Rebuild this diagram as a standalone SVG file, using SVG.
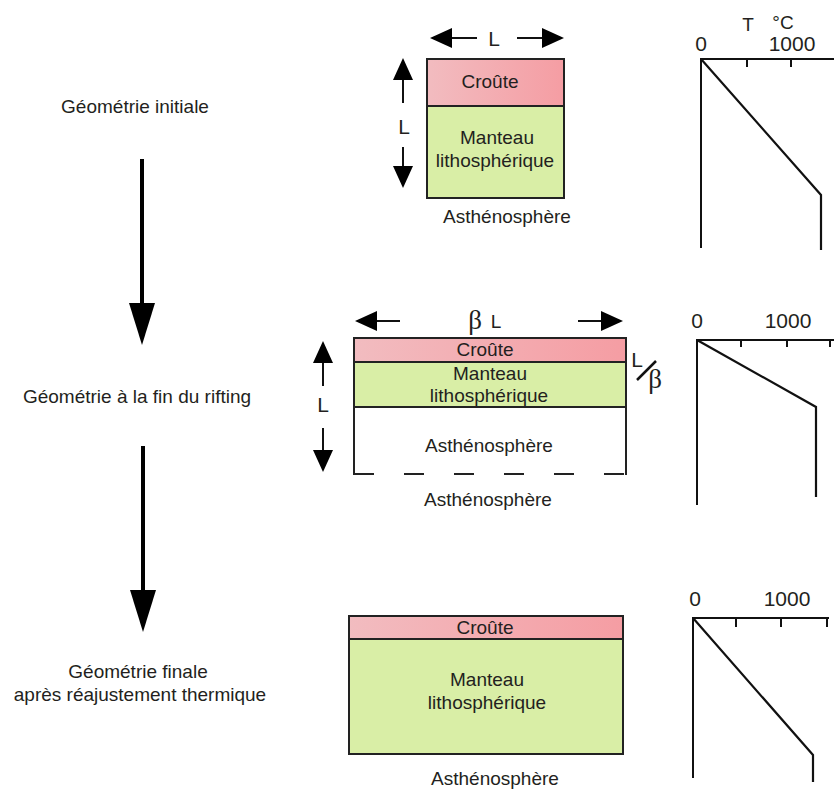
<svg xmlns="http://www.w3.org/2000/svg" width="834" height="791" viewBox="0 0 834 791">
<style>
text{font-family:"Liberation Sans",Arial,sans-serif;font-size:19px;fill:#231f20;text-anchor:middle}
.num{font-size:21px}
.lbl{font-size:21px}
.ax{stroke:#111;stroke-width:2;fill:none}
.prof{stroke:#111;stroke-width:2.2;fill:none}
.box{stroke:#222;stroke-width:2}
.crust{fill:url(#cg)}
.mantle{fill:#d9eea6}
.sa{stroke:#111;stroke-width:2;marker-end:url(#sh)}
.ba{stroke:#000;stroke-width:4;marker-end:url(#bh)}
.greek{font-family:"Liberation Serif","Times New Roman",serif;font-size:27px}
</style>
<defs>
<linearGradient id="cg" x1="0" y1="0" x2="1" y2="0">
<stop offset="0" stop-color="#f2bcc0"/>
<stop offset="1" stop-color="#f59da3"/>
</linearGradient>
<marker id="sh" markerUnits="userSpaceOnUse" viewBox="0 0 22 20" refX="0" refY="10" markerWidth="22" markerHeight="20" orient="auto">
<path d="M0,0 L22,10 L0,20 Z" fill="#000"/>
</marker>
<marker id="bh" markerUnits="userSpaceOnUse" viewBox="0 0 42 26" refX="0" refY="13" markerWidth="42" markerHeight="26" orient="auto">
<path d="M0,0 L42,13 L0,26 Z" fill="#000"/>
</marker>
</defs>

<g id="stage-labels">
<text x="135" y="113">Géométrie initiale</text>
<text x="137" y="403">Géométrie à la fin du rifting</text>
<text x="138" y="678">Géométrie finale</text>
<text x="140" y="701">après réajustement thermique</text>
</g>

<g id="connectors">
<line class="ba" x1="142" y1="159" x2="142" y2="303"/>
<line class="ba" x1="143" y1="446" x2="143" y2="590"/>
</g>

<g id="block-initial">
<rect class="crust" x="427" y="59" width="137" height="47"/>
<rect class="mantle" x="427" y="106" width="137" height="92"/>
<rect class="box" x="427" y="59" width="137" height="139" fill="none"/>
<line class="box" x1="427" y1="106" x2="564" y2="106"/>
<text x="490" y="88">Croûte</text>
<text x="497" y="144">Manteau</text>
<text x="495" y="167">lithosphérique</text>
<text x="507" y="223">Asthénosphère</text>
<line class="sa" x1="477" y1="38" x2="452" y2="38"/>
<line class="sa" x1="517" y1="38" x2="542" y2="38"/>
<text class="lbl" x="494" y="46">L</text>
<line class="sa" x1="403" y1="103" x2="403" y2="80"/>
<line class="sa" x1="403" y1="147" x2="403" y2="166"/>
<text class="lbl" x="404" y="134">L</text>
</g>

<g id="block-rifting">
<rect class="crust" x="354" y="338" width="272" height="24"/>
<rect class="mantle" x="354" y="362" width="272" height="45"/>
<line class="box" x1="354" y1="338" x2="626" y2="338"/>
<line class="box" x1="354" y1="362" x2="626" y2="362"/>
<line class="box" x1="354" y1="407" x2="626" y2="407"/>
<line class="box" x1="354" y1="337" x2="354" y2="475"/>
<line class="box" x1="626" y1="337" x2="626" y2="475"/>
<line class="box" x1="354" y1="474" x2="626" y2="474" stroke-dasharray="20 30"/>
<text x="485" y="356">Croûte</text>
<text x="490" y="380">Manteau</text>
<text x="489" y="402">lithosphérique</text>
<text x="489" y="452">Asthénosphère</text>
<text x="488" y="506">Asthénosphère</text>
<line class="sa" x1="400" y1="321" x2="377" y2="321"/>
<line class="sa" x1="578" y1="321" x2="601" y2="321"/>
<text x="475" y="329" class="greek">β</text>
<text x="496" y="328">L</text>
<line class="sa" x1="323" y1="386" x2="323" y2="363"/>
<line class="sa" x1="323" y1="428" x2="323" y2="450"/>
<text class="lbl" x="323" y="412">L</text>
<text class="lbl" x="637" y="367">L</text>
<line x1="637" y1="380" x2="656" y2="361" stroke="#111" stroke-width="2.5"/>
<text x="655" y="388" class="greek">β</text>
</g>

<g id="block-final">
<rect class="crust" x="349" y="616" width="274" height="23"/>
<rect class="mantle" x="349" y="639" width="274" height="115"/>
<rect class="box" x="349" y="616" width="274" height="138" fill="none"/>
<line class="box" x1="349" y1="639" x2="623" y2="639"/>
<text x="485" y="634">Croûte</text>
<text x="487" y="686">Manteau</text>
<text x="487" y="709">lithosphérique</text>
<text x="495" y="785">Asthénosphère</text>
</g>

<g id="graph-initial">
<line class="ax" x1="701" y1="59" x2="701" y2="248"/>
<line class="ax" x1="700" y1="59" x2="834" y2="59"/>
<line class="ax" x1="747" y1="59" x2="747" y2="67"/>
<line class="ax" x1="791" y1="59" x2="791" y2="67"/>
<polyline class="prof" points="701,59 821,195 821,250"/>
<text class="num" x="701" y="51">0</text>
<text class="num" x="792" y="51">1000</text>
<text x="748" y="31" font-size="25">T</text>
<text x="783" y="29" font-size="17">°C</text>
</g>

<g id="graph-rifting">
<line class="ax" x1="697" y1="340" x2="697" y2="505"/>
<line class="ax" x1="696" y1="340" x2="834" y2="340"/>
<line class="ax" x1="741" y1="340" x2="741" y2="347"/>
<line class="ax" x1="787" y1="340" x2="787" y2="347"/>
<line class="ax" x1="830" y1="340" x2="830" y2="347"/>
<polyline class="prof" points="697,340 816,407 816,497"/>
<text class="num" x="697" y="328">0</text>
<text class="num" x="788" y="328">1000</text>
</g>

<g id="graph-final">
<line class="ax" x1="693" y1="618" x2="693" y2="778"/>
<line class="ax" x1="692" y1="618" x2="829" y2="618"/>
<line class="ax" x1="736" y1="618" x2="736" y2="627"/>
<line class="ax" x1="781" y1="618" x2="781" y2="627"/>
<line class="ax" x1="827" y1="618" x2="827" y2="627"/>
<polyline class="prof" points="693,618 813,755 813,782"/>
<text class="num" x="695" y="606">0</text>
<text class="num" x="787" y="606">1000</text>
</g>
</svg>
